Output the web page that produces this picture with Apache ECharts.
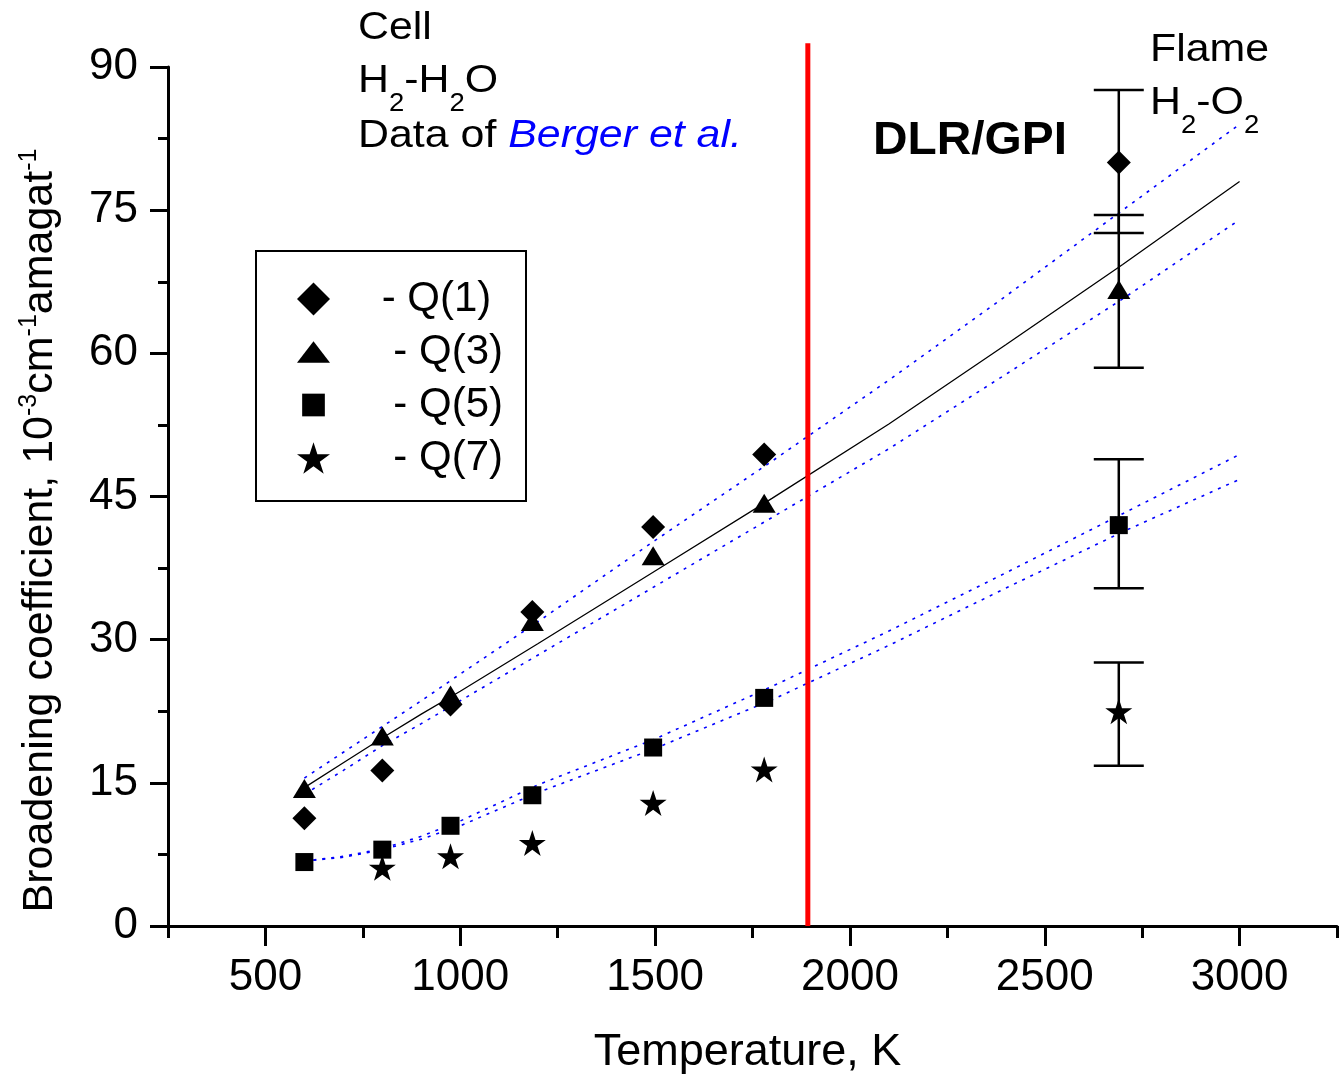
<!DOCTYPE html>
<html>
<head>
<meta charset="utf-8">
<script src="https://cdn.jsdelivr.net/npm/echarts@6/dist/echarts.min.js"></script>
<style>html,body{margin:0;padding:0;background:#fff}#c{width:1341px;height:1081px}</style>
</head>
<body>
<div id="c"></div>
<script>
// ---------- data ----------
const temps = [600, 800, 975, 1185, 1495, 1780, 2690];
const q1 = [11.3, 16.3, 23.2, 32.9, 41.8, 49.4, 80.0];
const q3 = [14.4, 19.9, 24.2, 31.9, 38.8, 44.3, 66.7];
const q5 = [6.7, 8.0, 10.5, 13.7, 18.7, 23.9, 42.0];
const q7 = [null, 6.1, 7.3, 8.7, 12.9, 16.4, 22.5];
const seriesNames = ['- Q(1)', ' - Q(3)', ' - Q(5)', ' - Q(7)'];

// flame error bars (Q1, Q3, Q5, Q7) at one temperature
const errT = 2690;
const errLow = [72.6, 58.5, 35.4, 16.8];
const errHigh = [87.6, 74.5, 48.9, 27.6];

// fitted curves
const fitT = [600, 700, 800, 900, 1000, 1200, 1500, 1800, 2100, 2400, 2700, 3000];
const fitQ13 = [14.5, 17.1, 19.7, 22.2, 24.6, 29.6, 37.2, 44.8, 52.6, 60.9, 69.3, 78.0];
const bandQ13Up = [15.5, 18.2, 20.9, 23.6, 26.4, 31.9, 40.4, 48.7, 57.2, 66.0, 75.0, 84.0];
const bandQ13Lo = [13.8, 16.3, 18.9, 21.2, 23.6, 28.4, 35.6, 42.8, 50.0, 57.8, 65.7, 74.0];
const bandQ5Up = [6.8, 7.3, 8.1, 9.4, 11.0, 14.8, 19.6, 25.1, 30.9, 37.0, 43.2, 49.4];
const bandQ5Lo = [6.8, 7.2, 8.0, 9.1, 10.5, 14.0, 18.6, 23.7, 29.4, 35.4, 41.3, 46.8];

// DLR/GPI separator
const dlrT = 1892;
const dlrRange = [0, 92.5];

// axis ticks
const xMajor = [500, 1000, 1500, 2000, 2500, 3000];
const xMinor = [250, 750, 1250, 1750, 2250, 2750, 3250];

// ---------- chart ----------
const FF = 'Liberation Sans, Arial, sans-serif';
const STAR = 'path://M100,0L122.45,69.1L195.1,69.1L136.3,111.8L158.8,180.9L100,138.2L41.2,180.9L63.7,111.8L4.9,69.1L77.55,69.1Z';
const TRI_LEG = 'path://M16,0L32,21L0,21Z';
const SQ_LEG = 'path://M0,0L0,0M32,32L32,32M5,5L27,5L27,27L5,27Z';

const zip = (xs, ys) => xs.map((x, i) => [x, ys[i]]);
const pts = ys => temps.map((t, i) => [t, ys[i]]).filter(p => p[1] != null);

function fitLine(data, color, dashed) {
  return {
    type: 'line', data, showSymbol: false, symbol: 'none', silent: true, z: 2,
    lineStyle: { color, width: dashed ? 1.6 : 1.3, type: dashed ? [3, 6] : 'solid' }
  };
}
const ann = (text, x, y, extra) => ({
  type: 'text', x, y, scaleX: 1.1, z: 10,
  style: Object.assign({ text, fontSize: 39, fontFamily: FF, fill: '#000', align: 'left', verticalAlign: 'middle' }, extra || {})
});
const SUB = { sub: { fontSize: 25, lineHeight: 25, padding: [46, 0, 0, 0], fontFamily: FF, fill: '#000' } };
const markerStyle = { color: '#000', opacity: 1 };

const chart = echarts.init(document.getElementById('c'), null, { renderer: 'canvas' });
chart.setOption({
  animation: false,
  backgroundColor: '#fff',
  textStyle: { fontFamily: FF, color: '#000' },
  grid: { left: 168, right: 4, top: 67, bottom: 155, containLabel: false, outerBoundsMode: 'none' },
  xAxis: [{
    type: 'value', min: 250, max: 3250, position: 'bottom',
    axisLine: { show: true, onZero: false, lineStyle: { color: '#000', width: 3 } },
    axisTick: { show: true, customValues: xMajor, length: 20, lineStyle: { color: '#000', width: 3 } },
    axisLabel: { customValues: xMajor, fontSize: 44, color: '#000', margin: 30, fontFamily: FF, formatter: v => String(v) },
    splitLine: { show: false },
    name: 'Temperature, K', nameLocation: 'middle', nameGap: 104,
    nameTextStyle: { fontSize: 45, color: '#000', fontFamily: FF, padding: [0, 10, 0, 0] }
  }, {
    type: 'value', min: 250, max: 3250, position: 'bottom',
    axisLine: { show: false },
    axisTick: { show: true, customValues: xMinor, length: 12, lineStyle: { color: '#000', width: 3 } },
    axisLabel: { show: false },
    splitLine: { show: false }
  }],
  yAxis: {
    type: 'value', min: 0, max: 90, interval: 15,
    axisLine: { show: true, onZero: false, lineStyle: { color: '#000', width: 3 } },
    axisTick: { show: true, length: 18, lineStyle: { color: '#000', width: 3 } },
    minorTick: { show: true, splitNumber: 2, length: 10, lineStyle: { color: '#000', width: 3 } },
    axisLabel: { fontSize: 44, color: '#000', margin: 30, fontFamily: FF },
    splitLine: { show: false }, minorSplitLine: { show: false },
    name: 'Broadening coefficient, 10{sup|-3}cm{sup|-1}amagat{sup|-1}',
    nameLocation: 'middle', nameGap: 106, nameRotate: 90,
    nameTextStyle: {
      fontSize: 43, color: '#000', fontFamily: FF, padding: [0, 68, 0, 0],
      rich: { sup: { fontSize: 25, lineHeight: 25, padding: [0, 0, 22, 0], fontFamily: FF, color: '#000' } }
    }
  },
  legend: {
    orient: 'vertical', left: 256, top: 251,
    padding: [27, 23, 22, 41], itemGap: 11, itemWidth: 33, itemHeight: 33,
    borderColor: '#000', borderWidth: 2, borderRadius: 0, backgroundColor: '#fff',
    selectedMode: false,
    textStyle: { fontSize: 42, lineHeight: 40, color: '#000', fontFamily: FF },
    formatter: n => '    ' + n,
    data: [
      { name: seriesNames[0], icon: 'diamond' },
      { name: seriesNames[1], icon: TRI_LEG },
      { name: seriesNames[2], icon: SQ_LEG },
      { name: seriesNames[3], icon: STAR }
    ]
  },
  graphic: [
    ann('Cell', 358, 28),
    ann('H{sub|2}-H{sub|2}O', 358, 81, { rich: SUB }),
    ann('Data of {b|Berger et al.}', 358, 136,
      { rich: { b: { fontSize: 39, fontStyle: 'italic', fill: '#0000ff', fontFamily: FF } } }),
    { type: 'text', x: 873, y: 141, scaleX: 1.04, z: 10,
      style: { text: 'DLR/GPI', fontSize: 46, fontWeight: 'bold', fontFamily: FF, fill: '#000', align: 'left', verticalAlign: 'middle' } },
    ann('Flame', 1150, 50),
    ann('H{sub|2}-O{sub|2}', 1150, 103, { rich: SUB })
  ],
  series: [
    fitLine(zip(fitT, bandQ13Up), '#0000ff', true),
    fitLine(zip(fitT, bandQ13Lo), '#0000ff', true),
    fitLine(zip(fitT, bandQ5Up), '#0000ff', true),
    fitLine(zip(fitT, bandQ5Lo), '#0000ff', true),
    fitLine(zip(fitT, fitQ13), '#000000', false),
    {
      type: 'line', data: [[dlrT, dlrRange[0]], [dlrT, dlrRange[1]]], clip: false, symbol: 'none', silent: true, z: 3,
      lineStyle: { color: '#ff0000', width: 5 }
    },
    {
      type: 'custom', z: 4, silent: true,
      data: errLow.map((lo, i) => [errT, lo, errHigh[i]]),
      encode: { x: 0, y: [1, 2] },
      renderItem: (params, api) => {
        const t = api.value(0);
        const lo = api.coord([t, api.value(1)]);
        const hi = api.coord([t, api.value(2)]);
        const hw = 25;
        const st = { stroke: '#000', lineWidth: 2.5 };
        return {
          type: 'group', children: [
            { type: 'line', shape: { x1: lo[0], y1: lo[1], x2: hi[0], y2: hi[1] }, style: st },
            { type: 'line', shape: { x1: lo[0] - hw, y1: lo[1], x2: lo[0] + hw, y2: lo[1] }, style: st },
            { type: 'line', shape: { x1: hi[0] - hw, y1: hi[1], x2: hi[0] + hw, y2: hi[1] }, style: st }
          ]
        };
      }
    },
    { name: seriesNames[0], type: 'scatter', data: pts(q1), symbol: 'diamond', symbolSize: [24, 24], z: 5, itemStyle: markerStyle },
    { name: seriesNames[1], type: 'scatter', data: pts(q3), symbol: 'triangle', symbolSize: [23, 19], z: 5, itemStyle: markerStyle },
    { name: seriesNames[2], type: 'scatter', data: pts(q5), symbol: 'rect', symbolSize: [18, 18], z: 5, itemStyle: markerStyle },
    { name: seriesNames[3], type: 'scatter', data: pts(q7), symbol: STAR, symbolSize: [27, 26], z: 5, itemStyle: markerStyle }
  ]
});
</script>
</body>
</html>
